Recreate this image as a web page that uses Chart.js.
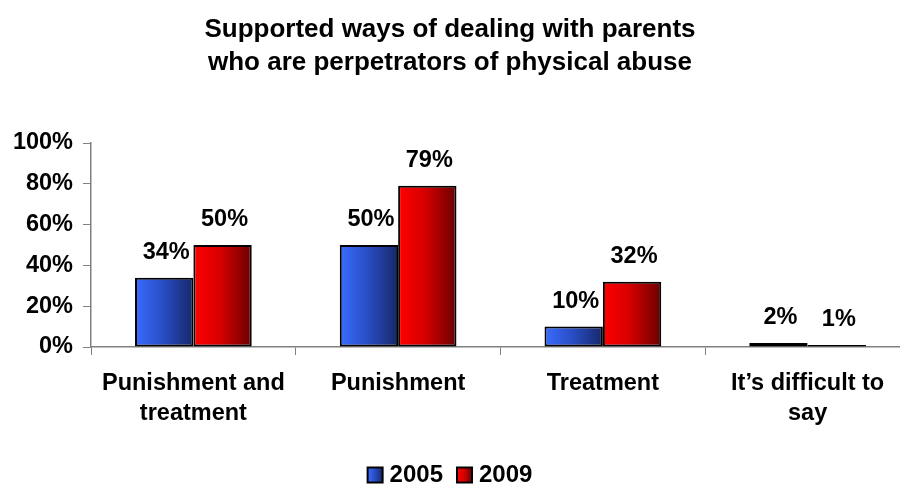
<!DOCTYPE html>
<html>
<head>
<meta charset="utf-8">
<script src="https://cdn.jsdelivr.net/npm/chart.js@4/dist/chart.umd.min.js"></script>
<style>
    html, body { margin: 0; padding: 0; background: #fff; overflow: hidden; }
    #wrap { width: 910px; height: 484px; }
</style>
</head>
<body>
<div id="wrap"><canvas id="chart" width="910" height="484"></canvas></div>
<script>
(function (window, document) {
    "use strict";

    const titleLines = ["Supported ways of dealing with parents", "who are perpetrators of physical abuse"];
    const categories = [["Punishment and", "treatment"], "Punishment", "Treatment", ["It\u2019s difficult to", "say"]];
    const seriesNames = ["2005", "2009"];
    const values2005 = [34, 50, 10, 2];
    const values2009 = [50, 79, 32, 1];
    const yTicks = [0, 20, 40, 60, 80, 100];

    const FONT = "'Liberation Sans', Arial, sans-serif";
    const CAT_PCT = 0.57;
    const BLUE = ["#3a6cff", "#2a4fc8", "#16286a"];
    const RED = ["#ff0000", "#d80000", "#6a0000"];

    function gradient(ctx, left, width, stops) {
        if (!isFinite(left) || !isFinite(width) || width <= 0) return stops[1];
        const g = ctx.createLinearGradient(left, 0, left + width, 0);
        g.addColorStop(0, stops[0]);
        g.addColorStop(0.45, stops[1]);
        g.addColorStop(1, stops[2]);
        return g;
    }

    function barFill(stops) {
        return c => {
            const chart = c.chart;
            const x = chart.scales.x;
            if (!x || c.dataIndex === undefined) return stops[1];
            const cat = x.width / chart.data.labels.length;
            const group = cat * CAT_PCT;
            const w = group / chart.data.datasets.length;
            const left = x.getPixelForValue(c.dataIndex) - group / 2 + c.datasetIndex * w;
            return gradient(chart.ctx, left, w, stops);
        };
    }

    // title is drawn by hand so it stays centred on the visible 900px
    const titleText = {
        id: "titleText",
        afterDraw(chart) {
            const ctx = chart.ctx;
            ctx.save();
            ctx.font = "bold 26px " + FONT;
            ctx.fillStyle = "#000";
            ctx.textAlign = "center";
            ctx.textBaseline = "alphabetic";
            titleLines.forEach((line, i) => ctx.fillText(line, 450, 37 + i * 33));
            ctx.restore();
        }
    };

    const valueLabels = {
        id: "valueLabels",
        afterDatasetsDraw(chart) {
            const ctx = chart.ctx;
            ctx.save();
            ctx.font = "bold 23.5px " + FONT;
            ctx.fillStyle = "#000";
            ctx.textAlign = "center";
            ctx.textBaseline = "alphabetic";
            chart.data.datasets.forEach((ds, i) => {
                chart.getDatasetMeta(i).data.forEach((bar, j) => {
                    ctx.fillText(ds.data[j] + "%", bar.x + 2, bar.y - 19);
                });
            });
            ctx.restore();
        }
    };

    const bottomLegend = {
        id: "bottomLegend",
        afterDraw(chart) {
            const ctx = chart.ctx;
            const box = 15, gap = 7, space = 14, cy = 475;
            const fills = [BLUE, RED];
            ctx.save();
            ctx.font = "bold 24px " + FONT;
            const widths = seriesNames.map(n => box + gap + ctx.measureText(n).width);
            const total = widths.reduce((a, b) => a + b, 0) + space * (widths.length - 1);
            let x = 450 - total / 2;
            seriesNames.forEach((name, i) => {
                ctx.fillStyle = gradient(ctx, x, box, fills[i]);
                ctx.fillRect(x, cy - box / 2, box, box);
                ctx.lineWidth = 2;
                ctx.strokeStyle = "#000";
                ctx.strokeRect(x, cy - box / 2, box, box);
                ctx.fillStyle = "#000";
                ctx.textBaseline = "middle";
                ctx.textAlign = "left";
                ctx.fillText(name, x + box + gap, cy);
                x += widths[i] + space;
            });
            ctx.restore();
        }
    };

    new Chart(document.getElementById("chart").getContext("2d"), {
        type: "bar",
        data: {
            labels: categories,
            datasets: [
                { label: seriesNames[0], data: values2005, backgroundColor: barFill(BLUE) },
                { label: seriesNames[1], data: values2009, backgroundColor: barFill(RED) }
            ]
        },
        options: {
            responsive: false,
            animation: false,
            layout: { padding: { left: 0, right: 0, top: 143, bottom: 0 } },
            datasets: {
                bar: {
                    categoryPercentage: CAT_PCT,
                    barPercentage: 1,
                    borderColor: "#000",
                    borderWidth: 2,
                    borderSkipped: false
                }
            },
            plugins: {
                legend: { display: false },
                tooltip: { enabled: false },
                title: { display: false }
            },
            scales: {
                x: {
                    grid: { display: true, drawOnChartArea: false, offset: true, tickLength: 8, color: "#808080" },
                    border: { color: "#808080", width: 1.5 },
                    ticks: {
                        color: "#000",
                        padding: 13,
                        maxRotation: 0,
                        autoSkip: false,
                        font: { family: FONT, size: 23.5, weight: "bold", lineHeight: 1.28 }
                    },
                    afterFit: scale => { scale.height = 137; }
                },
                y: {
                    min: 0,
                    max: 100,
                    afterBuildTicks: scale => { scale.ticks = yTicks.map(v => ({ value: v })); },
                    grid: { display: true, drawOnChartArea: false, tickLength: 8, color: "#808080" },
                    border: { color: "#808080", width: 1.5 },
                    ticks: {
                        color: "#000",
                        padding: 10,
                        callback: v => v + "%",
                        font: { family: FONT, size: 23.5, weight: "bold" }
                    },
                    afterFit: scale => { scale.width = 91; }
                }
            }
        },
        plugins: [titleText, valueLabels, bottomLegend]
    });
})(window, document);
</script>
</body>
</html>
